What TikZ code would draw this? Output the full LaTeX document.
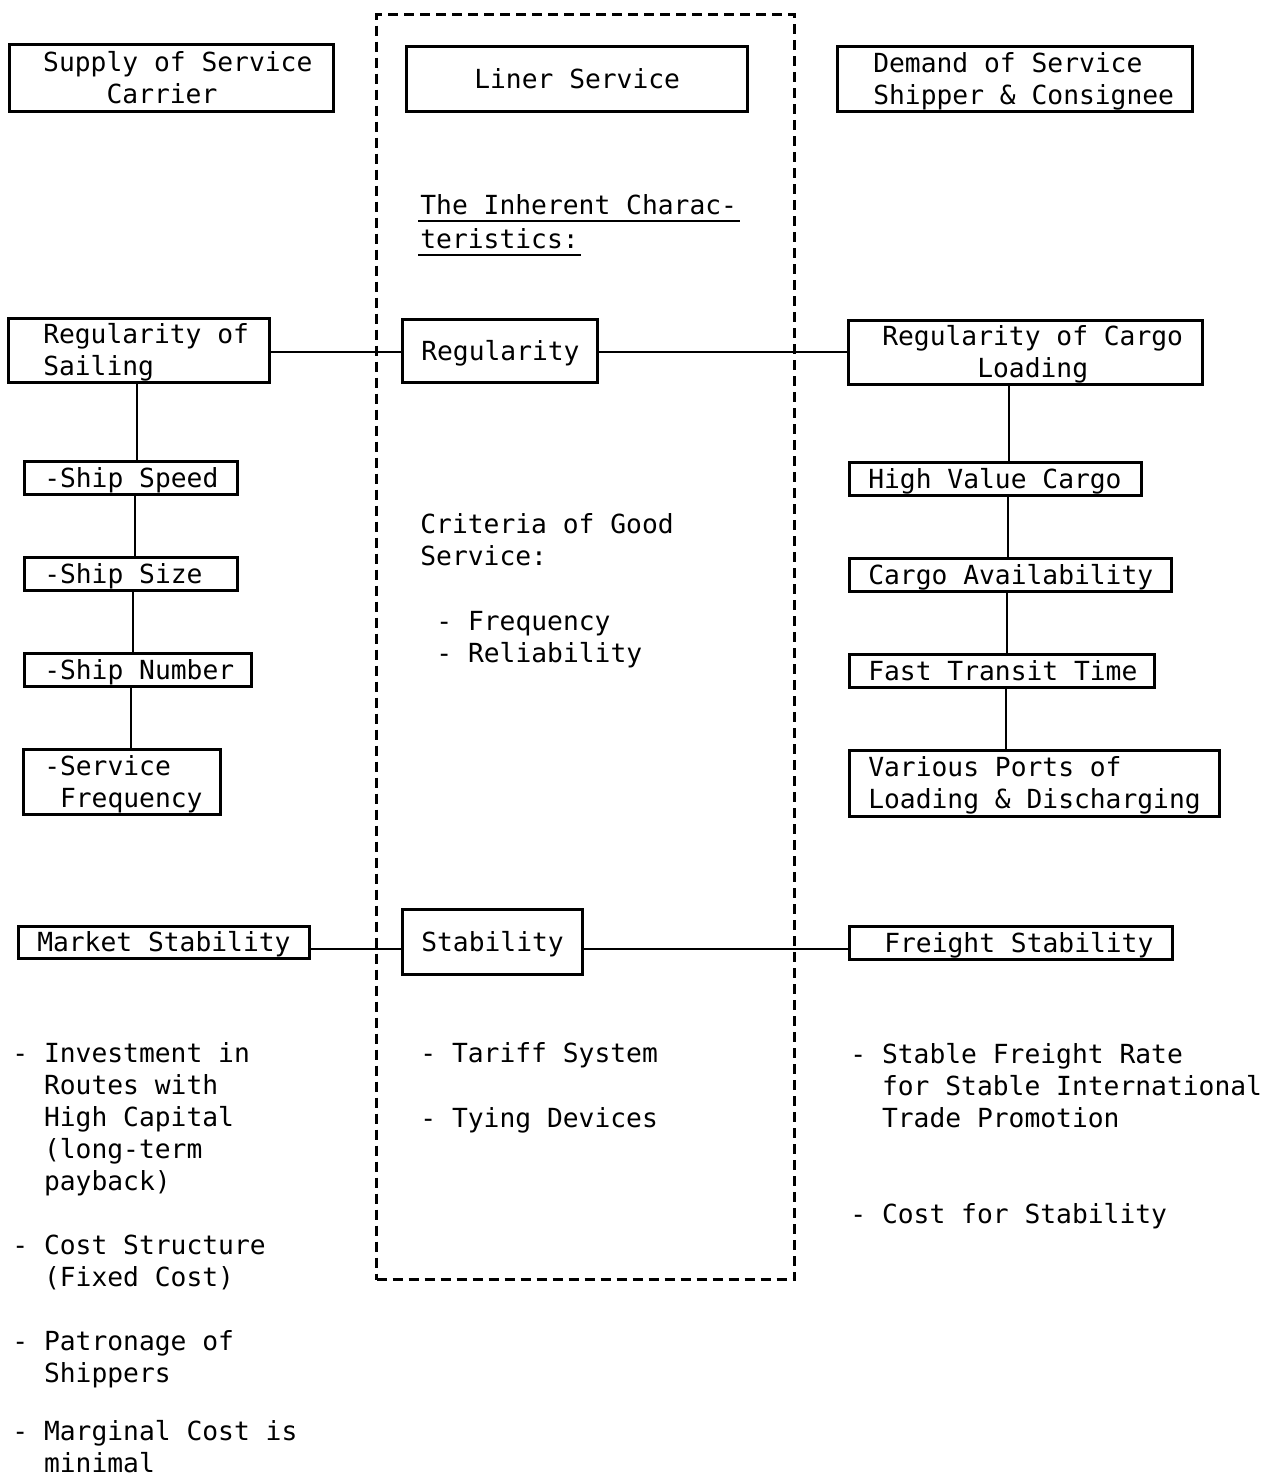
\documentclass[tikz,border=0pt]{standalone}
\usepackage{fontspec}
\setmainfont{DejaVu Sans Mono}[WordSpace={1,0,0}]
\frenchspacing
\newdimen\px \px=0.5pt
\newcommand\ch[1]{\hspace*{#1\fontcharwd\font`\-}}
\newcommand\mystrut{\rule[-3.2pt]{0pt}{16pt}}
\newcommand\fixsp{\spaceskip=0pt\xspaceskip=0pt\hyphenpenalty=10000\relax}
\tikzset{
  bx/.style n args={3}{draw, line width=1.25pt, anchor=north west, inner sep=0pt, align=left,
     minimum width=#1*0.5pt, minimum height=#2*0.5pt, text width=#1*0.5pt,
     execute at begin node={\fixsp\leftskip=#3\px\relax\mystrut}, execute at end node={\mystrut}},
  txt/.style={anchor=base west, inner sep=0pt, align=left, text width=260pt,
     execute at begin node={\fixsp}},
  word/.style={anchor=base west, inner sep=0pt},
  conn/.style={line width=1pt},
  frame/.style={draw, dash pattern=on 5pt off 3pt, line width=1.7pt, anchor=north west, inner sep=0pt},
}
\begin{document}
\begin{tikzpicture}[x=0.5pt,y=-0.5pt,font=\fontsize{13.15}{16}\selectfont]
\useasboundingbox (0,0) rectangle (1277,1478);
% dashed frame
\node[frame, minimum width=418*0.5pt, minimum height=1265*0.5pt] (frame) at (375,13) {};
% top row
\node[bx={324}{67}{34}] (supply) at (8,43) {Supply of Service\\\ch{4}Carrier};
\node[bx={341}{65}{68}] (liner) at (405,45) {Liner Service};
\node[bx={355}{65}{36}] (demand) at (836,45) {Demand of Service\\Shipper \& Consignee};
% inherent characteristics
\node[word] (inh1) at (420,214) {The Inherent Charac-};
\node[word] (inh2) at (420,248) {teristics:};
\draw[conn] ([xshift=-1pt,yshift=-3.5pt]inh1.base west) -- ([xshift=1.5pt,yshift=-3.5pt]inh1.base east);
\draw[conn] ([xshift=-1pt,yshift=-3.5pt]inh2.base west) -- ([xshift=1pt,yshift=-3.5pt]inh2.base east);
% regularity row
\node[bx={261}{63}{35}] (regsail) at (7,317) {Regularity of\\Sailing};
\node[bx={195}{63}{19}] (reg) at (401,318) {Regularity};
\node[bx={354}{63}{34}] (regcargo) at (847,319) {Regularity of Cargo\\\ch{6}Loading};
% left chain
\node[bx={213}{33}{20}] (speed) at (23,460) {-Ship Speed};
\node[bx={213}{33}{20}] (size) at (23,556) {-Ship Size};
\node[bx={227}{33}{20}] (number) at (23,652) {-Ship Number};
\node[bx={197}{65}{21}] (servfreq) at (22,748) {-Service\\\ch{1}Frequency};
% right chain
\node[bx={292}{33}{19}] (highval) at (848,461) {High Value Cargo};
\node[bx={322}{33}{19}] (avail) at (848,557) {Cargo Availability};
\node[bx={305}{33}{19}] (transit) at (848,653) {Fast Transit Time};
\node[bx={370}{66}{19}] (ports) at (848,749) {Various Ports of\\Loading \& Discharging};
% criteria
\node[txt] (criteria) at (420,533) {Criteria of Good\\Service:};
\node[txt] (freq) at (436,630) {- Frequency\\- Reliability};
% stability row
\node[bx={180}{65}{19}] (stab) at (401,908) {Stability};
\node[bx={291}{32}{19}] (market) at (17,925) {Market Stability};
\node[bx={323}{33}{35}] (freight) at (848,925) {Freight Stability};
% lower texts
\node[word] (tariff) at (420,1062) {- Tariff System};
\node[word] (tying) at (420,1127) {- Tying Devices};
\node[txt] (invest) at (12,1062) {- Investment in\\\ch{2}Routes with\\\ch{2}High Capital\\\ch{2}(long-term\\\ch{2}payback)};
\node[txt] (coststr) at (12,1254) {- Cost Structure\\\ch{2}(Fixed Cost)};
\node[txt] (patron) at (12,1350) {- Patronage of\\\ch{2}Shippers};
\node[txt] (marginal) at (12,1440) {- Marginal Cost is\\\ch{2}minimal};
\node[txt] (stable) at (850,1063) {- Stable Freight Rate\\\ch{2}for Stable International\\\ch{2}Trade Promotion};
\node[txt] (coststab) at (850,1223) {- Cost for Stability};
% connector guides
\coordinate (ry) at (0,352);
\coordinate (sy) at (0,949);
\coordinate (l1) at (137,0);
\coordinate (l2) at (135,0);
\coordinate (l3) at (133,0);
\coordinate (l4) at (131,0);
\coordinate (r1) at (1009,0);
\coordinate (r2) at (1008,0);
\coordinate (r3) at (1007,0);
\coordinate (r4) at (1006,0);
% horizontal connectors
\draw[conn] (regsail.east |- ry) -- (reg.west |- ry);
\draw[conn] (reg.east |- ry) -- (regcargo.west |- ry);
\draw[conn] (market.east |- sy) -- (stab.west |- sy);
\draw[conn] (stab.east |- sy) -- (freight.west |- sy);
% left vertical connectors
\draw[conn] (regsail.south -| l1) -- (speed.north -| l1);
\draw[conn] (speed.south -| l2) -- (size.north -| l2);
\draw[conn] (size.south -| l3) -- (number.north -| l3);
\draw[conn] (number.south -| l4) -- (servfreq.north -| l4);
% right vertical connectors
\draw[conn] (regcargo.south -| r1) -- (highval.north -| r1);
\draw[conn] (highval.south -| r2) -- (avail.north -| r2);
\draw[conn] (avail.south -| r3) -- (transit.north -| r3);
\draw[conn] (transit.south -| r4) -- (ports.north -| r4);
\end{tikzpicture}
\end{document}
